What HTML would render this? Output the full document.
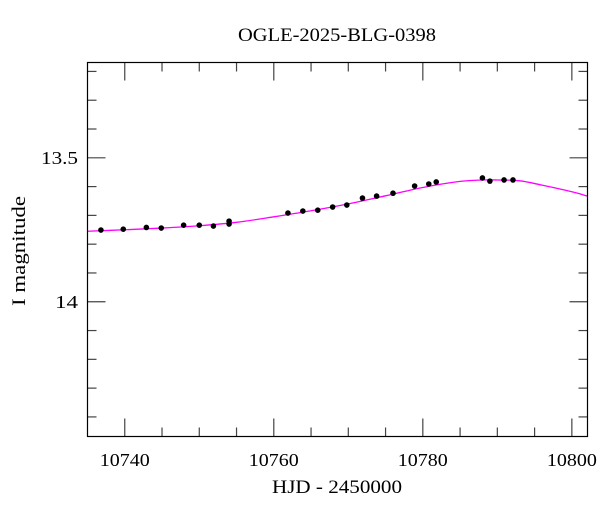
<!DOCTYPE html>
<html><head><meta charset="utf-8"><style>
body{margin:0;background:#fff;}
svg text{font-family:"Liberation Serif",serif;fill:#000;}
</style></head><body>
<svg id="chart" width="600" height="512" viewBox="0 0 600 512" xmlns="http://www.w3.org/2000/svg">
<text x="337" y="41" font-size="19" text-anchor="middle" textLength="198" lengthAdjust="spacingAndGlyphs">OGLE-2025-BLG-0398</text>
<text x="337" y="493" font-size="19" text-anchor="middle" textLength="130" lengthAdjust="spacingAndGlyphs">HJD - 2450000</text>
<text x="25" y="251" font-size="19" text-anchor="middle" transform="rotate(-90 25 251)" textLength="110" lengthAdjust="spacingAndGlyphs">I magnitude</text>
<g id="axes"></g>
<g id="marks"></g>
<rect x="87.5" y="62.5" width="500" height="374" fill="none" stroke="#000" stroke-width="1.2"/>
</svg>
<script>
const obsTimes=[10736.8,10739.8,10742.9,10744.9,10747.9,10750.0,10751.9,10754.0,10754.0,10761.9,10763.9,10765.9,10767.9,10769.8,10771.9,10773.8,10776.0,10778.9,10780.8,10781.8,10788.0,10789.0,10790.9,10792.1];
const obsMags=[13.751,13.748,13.742,13.744,13.734,13.734,13.737,13.730,13.720,13.692,13.685,13.682,13.671,13.664,13.640,13.633,13.623,13.598,13.591,13.584,13.570,13.581,13.577,13.577];
const modelTimes=[10735,10740,10745,10750,10755,10760,10765,10770,10775,10780,10785,10788,10790,10793,10796,10800,10802.1];
const modelMags=[13.755,13.750,13.744,13.736,13.724,13.705,13.684,13.660,13.632,13.603,13.582,13.577,13.577,13.580,13.595,13.618,13.633];
const xTickLabels=[10740,10760,10780,10800];
const yTickLabels=[13.5,14];

const X0=87.5,X1=587.5,Y0=62.5,Y1=436.5;
const tMin=10735.0,tMax=10802.1,mTop=13.169,mBot=14.468;
const xs=t=>X0+(t-tMin)/(tMax-tMin)*(X1-X0);
const ys=m=>Y0+(m-mTop)/(mBot-mTop)*(Y1-Y0);
const NS='http://www.w3.org/2000/svg';
const axes=document.getElementById('axes'),marks=document.getElementById('marks');
function line(p,x1,y1,x2,y2,c){const l=document.createElementNS(NS,'line');l.setAttribute('x1',x1);l.setAttribute('y1',y1);l.setAttribute('x2',x2);l.setAttribute('y2',y2);l.setAttribute('stroke',c||'#000');l.setAttribute('stroke-width','1.2');p.appendChild(l);return l;}
for(let t=10740;t<=tMax;t+=5){const x=xs(t);const major=(t%20===0);const len=major?18:9;
 let a=line(axes,x,Y1,x,Y1-len,'#444');
 
 
 let b=line(axes,x,Y0,x,Y0+len,'#444');
 
 }
xTickLabels.forEach(v=>{const tx=document.createElementNS(NS,'text');tx.setAttribute('x',xs(v));tx.setAttribute('y',466);tx.setAttribute('font-size','18');tx.setAttribute('text-anchor','middle');tx.setAttribute('textLength','50');tx.setAttribute('lengthAdjust','spacingAndGlyphs');tx.textContent=v;
 
 
 axes.appendChild(tx);});
for(let i=0;i<=13;i++){const m=13.2+i*0.1;if(m>mBot)break;const y=ys(m);const major=Math.abs(m-13.5)<1e-6||Math.abs(m-14)<1e-6;const len=major?18:9;
 let a=line(axes,X0,y,X0+len,y,'#444');
 
 
 let b=line(axes,X1,y,X1-len,y,'#444');
 
 }
yTickLabels.forEach(v=>{const tx=document.createElementNS(NS,'text');tx.setAttribute('x',78);tx.setAttribute('y',ys(v)+6);tx.setAttribute('font-size','18');tx.setAttribute('text-anchor','end');tx.setAttribute('textLength',String(v).length>2?'37':'23');tx.setAttribute('lengthAdjust','spacingAndGlyphs');tx.textContent=v;
 
 
 axes.appendChild(tx);});
const pts=modelTimes.map((t,i)=>[xs(t),ys(modelMags[i])]);
let d='M'+pts[0][0]+','+pts[0][1];
for(let i=0;i<pts.length-1;i++){const p0=pts[Math.max(0,i-1)],p1=pts[i],p2=pts[i+1],p3=pts[Math.min(pts.length-1,i+2)];
 d+=' C'+(p1[0]+(p2[0]-p0[0])/6)+','+(p1[1]+(p2[1]-p0[1])/6)+' '+(p2[0]-(p3[0]-p1[0])/6)+','+(p2[1]-(p3[1]-p1[1])/6)+' '+p2[0]+','+p2[1];}
const path=document.createElementNS(NS,'path');path.setAttribute('d',d);path.setAttribute('fill','none');path.setAttribute('stroke','#ff00ff');path.setAttribute('stroke-width','1.3');


marks.appendChild(path);
obsTimes.forEach((t,i)=>{const c=document.createElementNS(NS,'circle');c.setAttribute('cx',xs(t));c.setAttribute('cy',ys(obsMags[i]));c.setAttribute('r','2.8');c.setAttribute('fill','#000');
 
 
 marks.appendChild(c);});
</script>
</body></html>
